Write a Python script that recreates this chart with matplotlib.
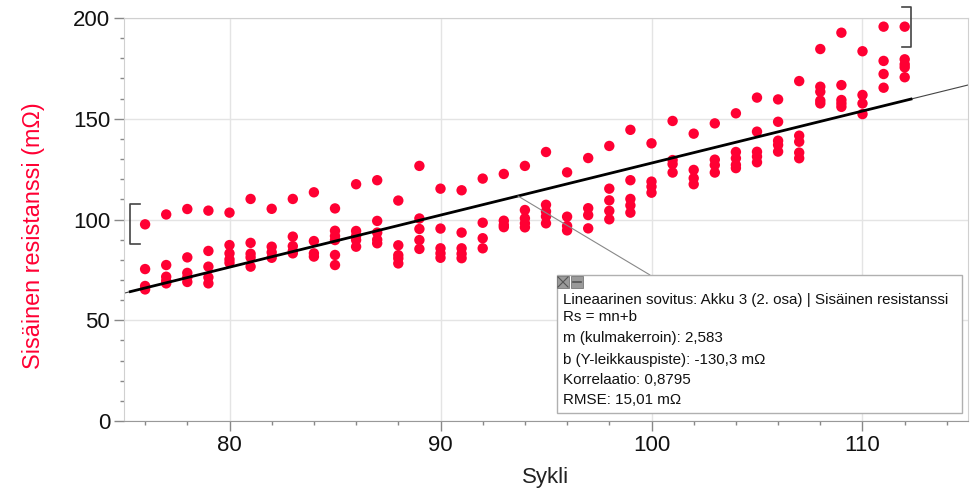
import matplotlib.pyplot as plt
from matplotlib.patches import Rectangle
from matplotlib.lines import Line2D

plt.rcParams['font.family'] = ['Liberation Sans', 'DejaVu Sans']

# Mittausdata: sisäinen resistanssi (mΩ) syklittäin
sykli = list(range(76, 113))
resistanssi = [
    [97.6, 75.4, 67.0, 65.3],
    [102.5, 77.4, 71.6, 69.6, 68.3],
    [105.2, 81.2, 73.5, 71.3, 69.0],
    [104.4, 84.4, 76.6, 71.3, 68.3],
    [103.4, 87.3, 83.2, 80.2, 78.5],
    [110.2, 88.4, 83.0, 81.2, 76.6],
    [105.3, 86.5, 83.7, 81.0],
    [110.2, 91.5, 86.8, 84.3, 83.2],
    [113.5, 89.3, 83.2, 81.6],
    [105.5, 94.4, 91.8, 89.8, 82.4, 77.4],
    [117.5, 94.3, 91.8, 89.8, 86.5],
    [119.5, 99.3, 93.5, 90.0, 88.2],
    [109.4, 87.2, 82.3, 80.7, 78.2],
    [126.6, 100.5, 95.3, 89.8, 85.4],
    [115.3, 95.5, 85.7, 83.2, 81.0],
    [114.5, 93.5, 85.7, 83.0, 80.8],
    [120.3, 98.4, 90.7, 85.7],
    [122.6, 99.4, 97.3, 96.2],
    [126.6, 104.7, 100.6, 98.1, 96.1],
    [133.5, 107.3, 104.0, 101.5, 98.1],
    [123.4, 101.4, 96.8, 94.6],
    [130.5, 105.6, 102.2, 95.6],
    [136.5, 115.3, 109.5, 104.3, 100.1],
    [144.5, 119.5, 110.2, 107.0, 103.4],
    [137.8, 118.8, 116.3, 113.3],
    [148.9, 129.5, 127.5, 123.3],
    [142.6, 124.6, 120.5, 117.5],
    [147.7, 129.7, 127.0, 123.3],
    [152.7, 133.5, 130.4, 127.1, 125.5],
    [160.5, 143.6, 133.6, 131.2, 128.4],
    [159.6, 148.5, 139.1, 137.0, 133.7],
    [168.7, 141.6, 138.6, 133.2, 130.4],
    [184.6, 165.9, 163.4, 159.0, 157.6],
    [192.7, 166.7, 159.3, 157.6, 155.9],
    [183.5, 161.8, 157.6, 152.3],
    [195.7, 178.7, 172.2, 165.4],
    [195.7, 179.5, 177.0, 175.5, 170.6],
]

# Lineaarinen sovitus
m = 2.583
b = -130.3
sovitus_alku = 75.3
sovitus_loppu = 112.3
kohta_selite = 93.67

tiedot = [
    "Lineaarinen sovitus: Akku 3 (2. osa) | Sisäinen resistanssi",
    "Rs = mn+b",
    "m (kulmakerroin): 2,583",
    "b (Y-leikkauspiste): -130,3 mΩ",
    "Korrelaatio: 0,8795",
    "RMSE: 15,01 mΩ",
]
rivit_px = [300, 317, 338, 360, 380, 400]

punainen = '#ff0033'
W, H = 979, 493

fig = plt.figure(figsize=(W / 100, H / 100), dpi=100)
ax = fig.add_axes([124 / W, 72 / H, (968 - 124) / W, (421 - 18) / H])

xs, ys = [], []
for n, arvot in zip(sykli, resistanssi):
    xs += [n] * len(arvot)
    ys += arvot
ax.scatter(xs, ys, s=56, color=punainen, edgecolors='none', zorder=3)

def f(x):
    return m * x + b

ax.plot([75, 115], [f(75), f(115)], color='#444444', lw=0.8, zorder=2)
ax.plot([sovitus_alku, sovitus_loppu], [f(sovitus_alku), f(sovitus_loppu)],
        color='black', lw=2.0, zorder=4)

# hakasulkeet sovitusalueen reunoilla
y1 = resistanssi[0][0]
y2 = resistanssi[-1][0]
ax.plot([sovitus_alku + 0.45, sovitus_alku, sovitus_alku, sovitus_alku + 0.45],
        [y1 + 10, y1 + 10, y1 - 10, y1 - 10], color='#444444', lw=1.2,
        clip_on=False, zorder=5)
ax.plot([sovitus_loppu - 0.45, sovitus_loppu, sovitus_loppu, sovitus_loppu - 0.45],
        [y2 + 10, y2 + 10, y2 - 10, y2 - 10], color='#444444', lw=1.2,
        clip_on=False, zorder=5)

ax.set_xlim(75, 115)
ax.set_ylim(0, 200)
ax.set_xticks([80, 90, 100, 110])
ax.set_xticks(range(76, 115, 2), minor=True)
ax.set_yticks([0, 50, 100, 150, 200])
ax.set_yticks(range(0, 201, 10), minor=True)
ax.grid(True, which='major', color='#e4e4e4', lw=1.0)
ax.set_axisbelow(True)
ax.tick_params(which='major', length=7, width=1, color='#888888',
               labelsize=16, labelcolor='#111111', pad=3)
ax.tick_params(which='minor', length=3, width=1, color='#888888')
for s in ['left', 'top', 'right']:
    ax.spines[s].set_color('#d0d0d0')
ax.spines['bottom'].set_color('#999999')

ax.set_xlabel('Sykli', fontsize=16, color='#222222', labelpad=8)
ax.set_ylabel('Sisäinen resistanssi (mΩ)', fontsize=16.8, color=punainen)
ax.yaxis.set_label_coords(-0.094, 0.46)

# tietolaatikko
box = Rectangle((557 / W, 1 - 413 / H), (962 - 557) / W, (413 - 275) / H,
                transform=fig.transFigure, facecolor='white',
                edgecolor='#b0b0b0', lw=1.0, zorder=10)
fig.patches.append(box)
for x0 in (557, 571):
    fig.patches.append(Rectangle((x0 / W, 1 - 288 / H), 12 / W, 12 / H,
                                 transform=fig.transFigure, facecolor='#9a9a9a',
                                 edgecolor='#777777', lw=0.6, zorder=11))
fig.lines.append(Line2D([558 / W, 568 / W], [1 - 287 / H, 1 - 277 / H],
                        transform=fig.transFigure, color='#555555', lw=0.8, zorder=12))
fig.lines.append(Line2D([558 / W, 568 / W], [1 - 277 / H, 1 - 287 / H],
                        transform=fig.transFigure, color='#555555', lw=0.8, zorder=12))
fig.lines.append(Line2D([573 / W, 581 / W], [1 - 282 / H, 1 - 282 / H],
                        transform=fig.transFigure, color='#555555', lw=1.2, zorder=12))

for teksti, py in zip(tiedot, rivit_px):
    fig.text(563 / W, 1 - py / H, teksti, fontsize=10.9, color='#111111',
             va='center', ha='left', zorder=13)

ax.annotate('', xy=(kohta_selite, f(kohta_selite)),
            xytext=(650 / W, 1 - 275 / H), textcoords='figure fraction',
            arrowprops=dict(arrowstyle='-', color='#888888', lw=0.8,
                            shrinkA=0, shrinkB=0), zorder=6)

fig.savefig('out.png', dpi=100)
